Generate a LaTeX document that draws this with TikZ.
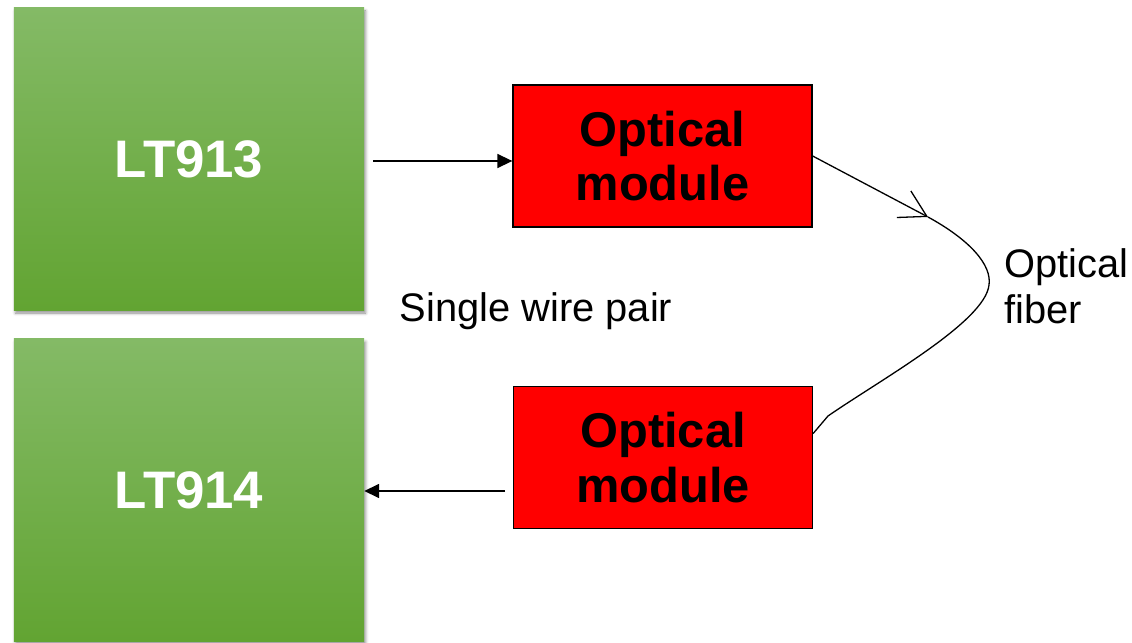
\documentclass[tikz,border=0pt]{standalone}
\usepackage{fontspec}
\setmainfont{Liberation Sans}
\usetikzlibrary{arrows.meta,shadows.blur,calc}
\definecolor{gtop}{HTML}{84BA66}
\definecolor{gbot}{HTML}{62A432}
\tikzset{
  chip/.style={minimum width=350bp, minimum height=302bp, inner sep=0pt,
    top color=gtop, bottom color=gbot, draw=none,
    blur shadow={shadow xshift=1.5bp, shadow yshift=-3bp, shadow blur radius=3bp, shadow opacity=45},
    text=white, font=\bfseries\fontsize{53}{60}\selectfont},
  optbox/.style={minimum width=299bp, minimum height=142bp, inner sep=0pt,
    fill=red, draw=black, line width=1.3bp, align=center,
    font=\bfseries\fontsize{49}{55}\selectfont},
  lbl/.style={font=\fontsize{40}{46}\selectfont, inner sep=0pt},
  wire/.style={line width=1.6bp, -{Triangle[length=15bp,width=14bp]}},
  fiber/.style={line width=1.3bp}
}
\begin{document}
\begin{tikzpicture}[x=1bp,y=-1bp]
\useasboundingbox (0,0) rectangle (1132,643);
\node[chip] (g1) at (189,159) {LT913};
\node[chip] (g2) at (189,490) {LT914};
\node[optbox] (o1) at (662.5,156) {Optical\\module};
\node[optbox] (o2) at (663,457.5) {Optical\\module};
\node[lbl] (swp) at (536,311) {Single wire pair};
\node[lbl, anchor=west, align=left] (fib) at (1004,286) {Optical\\fiber};
\coordinate (a1) at (373,161);
\coordinate (a2) at (505,491);
\coordinate (tip) at (928,217);
\draw[wire] (a1) -- (a1 -| o1.west);
\draw[wire] (a2) -- (a2 -| g2.east);
\draw[fiber, -{Straight Barb[length=26bp,width=30bp,line width=1.3bp]}] (o1.east) -- (tip);
\draw[fiber] (tip) .. controls (970,240) and (992,265) .. (989,285)
  .. controls (985,322) and (880,380) .. (828,416) -- ([yshift=24bp]o2.east);
\end{tikzpicture}
\end{document}
